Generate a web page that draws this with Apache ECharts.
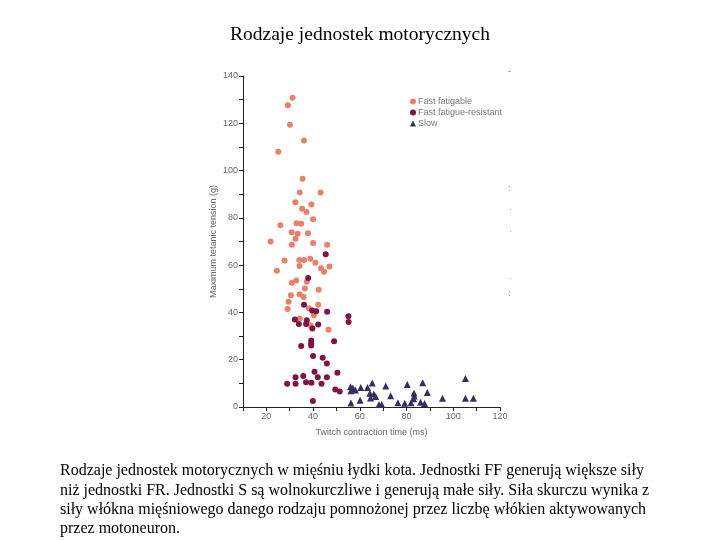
<!DOCTYPE html>
<html>
<head>
<meta charset="utf-8">
<script src="https://cdn.jsdelivr.net/npm/echarts@6/dist/echarts.min.js"></script>
<style>
  html, body { margin: 0; padding: 0; background: #fff; }
  #main { width: 720px; height: 540px; }
</style>
</head>
<body>
<div id="main"></div>
<script>
// czas skurczu (ms), napiecie (g)
const fastFatigable = [
  [31.2,130.8],[29.2,127.6],[30.1,119.4],[36.1,112.7],[25.1,108.0],[35.5,96.5],[34.3,90.7],[43.2,90.7],
  [32.4,86.6],[39.3,85.6],[35.3,83.8],[37.2,82.5],[40.0,79.4],[26.0,76.9],[32.9,77.7],[34.9,77.5],
  [30.8,73.9],[33.4,73.3],[37.8,73.5],[32.5,71.2],[21.8,70.0],[30.9,68.6],[40.0,69.4],[46.0,68.6],
  [47.0,59.4],[24.5,57.6],[27.8,62.0],[34.1,62.2],[36.1,62.2],[38.8,62.7],[41.0,61.0],[34.2,59.6],
  [43.4,58.7],[44.7,57.2],[30.9,52.6],[32.8,53.5],[37.3,53.0],[42.4,49.6],[36.5,50.1],[30.5,47.3],
  [34.2,47.7],[35.9,46.5],[29.5,44.5],[29.1,41.5],[38.2,41.8],[42.2,43.3],[40.3,38.8],[34.3,37.4],
  [38.9,34.6],[46.6,32.7]
];
const fastResistant = [
  [45.4,64.6],[37.9,54.6],[36.1,43.2],[39.6,40.8],[41.3,40.5],[46.0,40.3],[32.2,37.0],[37.3,36.7],
  [33.9,35.1],[37.0,35.1],[42.2,34.9],[39.7,33.2],[55.1,38.4],[55.2,35.9],[49.0,27.8],[39.2,28.1],
  [39.2,26.9],[39.2,26.0],[34.9,25.8],[40.0,21.6],[44.1,20.8],[45.9,18.4],[50.4,14.5],[40.6,14.9],
  [32.5,12.6],[35.8,13.1],[42.0,12.6],[45.9,12.6],[28.9,9.8],[32.5,9.8],[37.0,10.5],[39.3,10.3],
  [43.6,9.8],[49.5,7.4],[51.4,6.6],[39.9,2.5]
];
const slow = [
  [56.0,8.6],[57.0,8.0],[58.1,7.2],[56.2,6.9],[60.4,8.2],[56.2,1.7],[60.1,2.9],[63.3,8.2],
  [65.3,10.1],[64.3,5.8],[66.0,5.5],[66.8,4.4],[64.6,3.8],[68.2,1.1],[69.4,1.1],[71.1,8.9],
  [73.2,4.8],[76.3,1.8],[79.2,1.6],[80.3,9.5],[81.9,1.8],[83.2,5.9],[83.3,4.7],[83.0,3.5],
  [86.0,2.0],[86.9,10.3],[87.7,1.5],[88.9,6.1],[95.4,3.7],[105.2,12.1],[105.2,3.7],[108.6,3.7]
];
const seriesNames = ['Fast fatigable', 'Fast fatigue-resistant', 'Slow'];
const caption = [
  'Rodzaje jednostek motorycznych w mięśniu łydki kota. Jednostki FF generują większe siły',
  'niż jednostki FR. Jednostki S są wolnokurczliwe i generują małe siły. Siła skurczu wynika z',
  'siły włókna mięśniowego danego rodzaju pomnożonej przez liczbę włókien aktywowanych',
  'przez motoneuron.'
];

const chart = echarts.init(document.getElementById('main'));
const axisTxt = { color: '#666', fontSize: 9, fontFamily: 'Liberation Sans, sans-serif' };
const every20 = v => (v % 20 === 0 && v !== 10) ? String(v) : '';

const option = {
  backgroundColor: '#fff',
  animation: false,
  title: {
    text: 'Rodzaje jednostek motorycznych',
    left: 'center',
    top: 20,
    textStyle: { fontFamily: 'Liberation Serif, serif', fontSize: 19.5, fontWeight: 'normal', color: '#000' }
  },
  legend: {
    data: seriesNames,
    orient: 'vertical',
    left: 405,
    top: 92,
    itemWidth: 6,
    itemHeight: 6,
    itemGap: 2,
    textStyle: { color: '#777', fontSize: 9, padding: [0, 0, 0, -3], fontFamily: 'Liberation Sans, sans-serif' }
  },
  grid: { left: 243, right: 220, top: 76, bottom: 133 },
  xAxis: {
    type: 'value',
    min: 10, max: 120, interval: 10,
    name: 'Twitch contraction time (ms)',
    nameLocation: 'middle',
    nameGap: 21,
    nameTextStyle: axisTxt,
    axisLine: { lineStyle: { color: '#222', width: 1 } },
    axisTick: { length: 4, lineStyle: { color: '#222' } },
    axisLabel: Object.assign({ formatter: every20, margin: 5, showMinLabel: true }, axisTxt),
    splitLine: { show: false }
  },
  yAxis: {
    type: 'value',
    min: 0, max: 140, interval: 10,
    name: 'Maximum tetanic tension (g)',
    nameLocation: 'middle',
    nameGap: 25,
    nameTextStyle: axisTxt,
    axisLine: { show: true, lineStyle: { color: '#222', width: 1 } },
    axisTick: { show: true, length: 4, lineStyle: { color: '#222' } },
    axisLabel: Object.assign({ formatter: every20, margin: 5 }, axisTxt),
    splitLine: { show: false }
  },
  series: [
    { name: seriesNames[0], type: 'scatter', symbol: 'circle', symbolSize: 6,
      itemStyle: { color: '#e8806a', opacity: 1 }, data: fastFatigable },
    { name: seriesNames[1], type: 'scatter', symbol: 'circle', symbolSize: 6,
      itemStyle: { color: '#7d1444', opacity: 1 }, data: fastResistant },
    { name: seriesNames[2], type: 'scatter', symbol: 'triangle', symbolSize: 7,
      itemStyle: { color: '#382d60', opacity: 1 }, data: slow }
  ],
  graphic: caption.map((line, i) => ({
    type: 'text',
    left: 60,
    top: 463 + i * 19.3,
    style: { text: line, fill: '#000', font: '16px "Liberation Serif", serif' }
  })).concat([
    // resztki tekstu przycietego po prawej
    { type: 'text', left: 508, top: 67, style: { text: '-', fill: '#666', font: '9px sans-serif' } },
    { type: 'text', left: 508, top: 184, style: { text: ':', fill: '#888', font: '9px sans-serif' } },
    { type: 'text', left: 509, top: 205, style: { text: '·', fill: '#999', font: '9px sans-serif' } },
    { type: 'text', left: 509, top: 227, style: { text: '·', fill: '#aaa', font: '9px sans-serif' } },
    { type: 'text', left: 509, top: 274, style: { text: '·', fill: '#aaa', font: '9px sans-serif' } },
    { type: 'text', left: 508, top: 289, style: { text: ':', fill: '#888', font: '9px sans-serif' } }
  ])
};
chart.setOption(option);
</script>
</body>
</html>
